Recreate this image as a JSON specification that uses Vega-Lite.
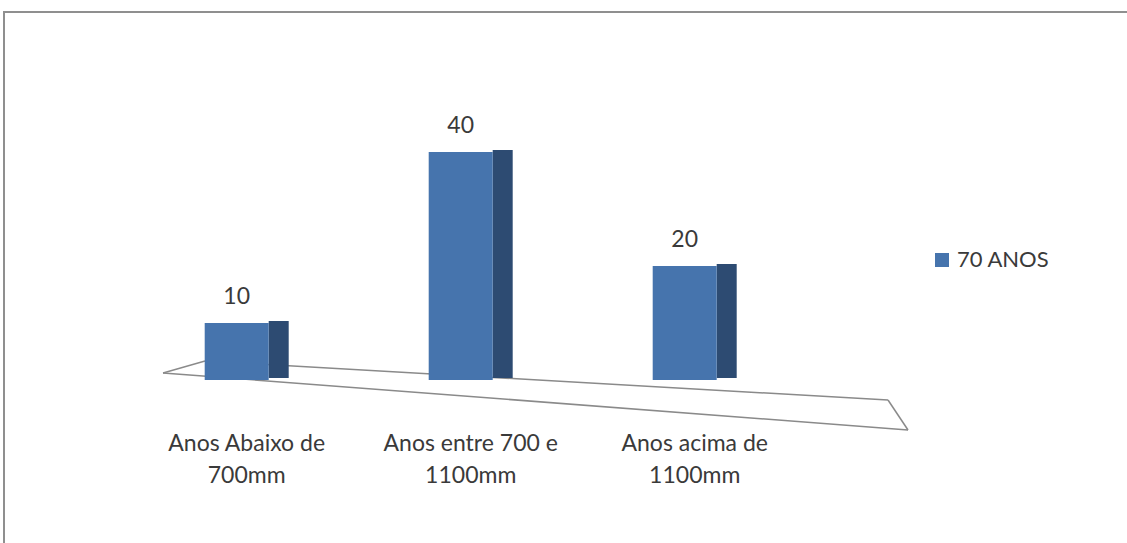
{
  "$schema": "https://vega.github.io/schema/vega-lite/v6.json",
  "autosize": {"type": "none"},
  "padding": {"left": 4, "top": 12, "right": 0, "bottom": 0},
  "width": 1130,
  "height": 540,
  "config": {
    "view": {"stroke": "#8f8f8f", "strokeWidth": 2},
    "font": "Lato"
  },
  "data": {
    "values": [
      {"categoria": "Anos Abaixo de|700mm", "valor": 10, "serie": "70 ANOS"},
      {"categoria": "Anos entre 700 e|1100mm", "valor": 40, "serie": "70 ANOS"},
      {"categoria": "Anos acima de|1100mm", "valor": 20, "serie": "70 ANOS"}
    ]
  },
  "encoding": {
    "x": {
      "field": "categoria",
      "type": "nominal",
      "axis": null,
      "scale": {
        "domain": ["Anos Abaixo de|700mm", "Anos entre 700 e|1100mm", "Anos acima de|1100mm"],
        "range": [120.7, 792.7],
        "paddingInner": 0,
        "paddingOuter": 0
      }
    }
  },
  "layer": [
    {
      "mark": {"type": "rule", "color": "#8a8a8a", "strokeWidth": 1.5, "xOffset": -73.7, "yOffset": -7, "x2Offset": 223.3, "y2Offset": 50},
      "transform": [{"filter": "datum.valor == 10"}],
      "encoding": {
        "x": {"datum": "Anos Abaixo de|700mm", "type": "nominal"},
        "x2": {"datum": "Anos acima de|1100mm"},
        "y": {"datum": 0, "type": "quantitative", "axis": null, "scale": {"domain": [-30.18, 64.56], "nice": false, "zero": false}},
        "y2": {"datum": 0}
      }
    },
    {
      "mark": {"type": "rule", "color": "#8a8a8a", "strokeWidth": 1.5, "xOffset": -31.7, "yOffset": -19, "x2Offset": 203.3, "y2Offset": 20},
      "transform": [{"filter": "datum.valor == 10"}],
      "encoding": {
        "x": {"datum": "Anos Abaixo de|700mm", "type": "nominal"},
        "x2": {"datum": "Anos acima de|1100mm"},
        "y": {"datum": 0, "type": "quantitative", "axis": null, "scale": {"domain": [-30.18, 64.56], "nice": false, "zero": false}},
        "y2": {"datum": 0}
      }
    },
    {
      "mark": {"type": "rule", "color": "#8a8a8a", "strokeWidth": 1.5, "xOffset": -73.7, "yOffset": -7, "x2Offset": -31.7, "y2Offset": -19},
      "transform": [{"filter": "datum.valor == 10"}],
      "encoding": {
        "x": {"datum": "Anos Abaixo de|700mm", "type": "nominal"},
        "x2": {"datum": "Anos Abaixo de|700mm"},
        "y": {"datum": 0, "type": "quantitative", "axis": null, "scale": {"domain": [-30.18, 64.56], "nice": false, "zero": false}},
        "y2": {"datum": 0}
      }
    },
    {
      "mark": {"type": "rule", "color": "#8a8a8a", "strokeWidth": 1.5, "xOffset": 203.3, "yOffset": 20, "x2Offset": 223.3, "y2Offset": 50},
      "transform": [{"filter": "datum.valor == 10"}],
      "encoding": {
        "x": {"datum": "Anos acima de|1100mm", "type": "nominal"},
        "x2": {"datum": "Anos acima de|1100mm"},
        "y": {"datum": 0, "type": "quantitative", "axis": null, "scale": {"domain": [-30.18, 64.56], "nice": false, "zero": false}},
        "y2": {"datum": 0}
      }
    },
    {
      "mark": {"type": "bar", "size": 20, "xOffset": 42, "yOffset": -2, "y2Offset": -2, "color": "#2d4b72"},
      "encoding": {
        "y": {"field": "valor", "type": "quantitative", "axis": null, "scale": {"domain": [-30.18, 64.56], "nice": false, "zero": false}},
        "y2": {"datum": 0}
      }
    },
    {
      "mark": {"type": "bar", "size": 64},
      "encoding": {
        "y": {"field": "valor", "type": "quantitative", "axis": null, "scale": {"domain": [-30.18, 64.56], "nice": false, "zero": false}},
        "y2": {"datum": 0},
        "color": {
          "field": "serie",
          "type": "nominal",
          "scale": {"range": ["#4674ad"]},
          "legend": {
            "title": null,
            "orient": "none",
            "legendX": 927,
            "legendY": 237,
            "symbolType": "square",
            "symbolSize": 196,
            "symbolStrokeWidth": 0,
            "labelFontSize": 22,
            "labelColor": "#3a3a3a",
            "labelOffset": 4,
            "labelFont": "Lato"
          }
        }
      }
    },
    {
      "mark": {"type": "text", "baseline": "bottom", "dy": -14, "fontSize": 23, "color": "#3a3a3a"},
      "encoding": {
        "y": {"field": "valor", "type": "quantitative", "axis": null, "scale": {"domain": [-30.18, 64.56], "nice": false, "zero": false}},
        "text": {"field": "valor", "type": "quantitative"}
      }
    },
    {
      "mark": {"type": "text", "baseline": "middle", "dx": 10, "lineBreak": "|", "lineHeight": 32, "fontSize": 23, "color": "#3a3a3a"},
      "encoding": {
        "y": {"datum": -11.23, "type": "quantitative", "axis": null, "scale": {"domain": [-30.18, 64.56], "nice": false, "zero": false}},
        "text": {"field": "categoria", "type": "nominal"}
      }
    }
  ]
}
